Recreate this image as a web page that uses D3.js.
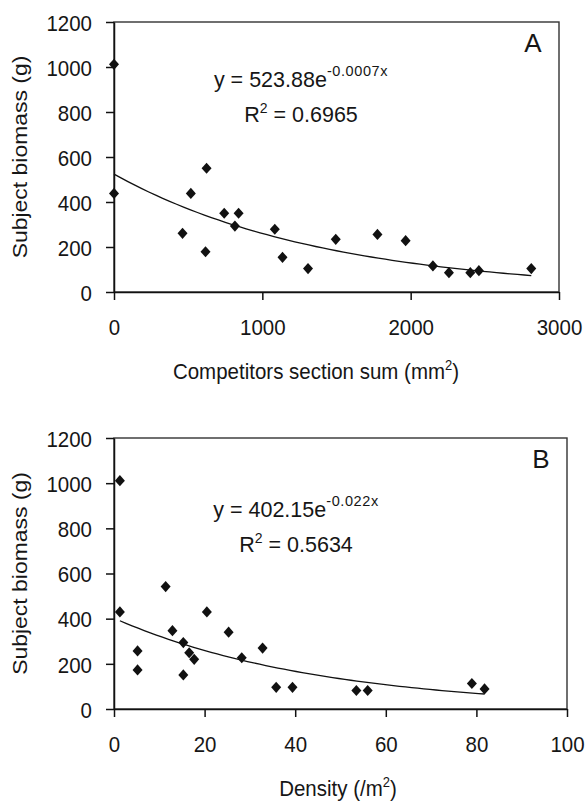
<!DOCTYPE html>
<html>
<head>
<meta charset="utf-8">
<script src="https://cdn.jsdelivr.net/npm/d3@7"></script>
<style>
body { margin: 0; background: #fff; }
svg text { font-family: "Liberation Sans", Arial, sans-serif; fill: #161616; }
</style>
</head>
<body>
<div id="chart"></div>
<script>
// Panel A: competitors section sum (mm2) vs subject biomass (g)
var sectionSum = [0, 0, 462, 518, 624, 617, 743, 815, 840, 1084, 1136, 1308, 1495, 1776, 1966, 2150, 2258, 2402, 2460, 2813];
var biomassA   = [1012, 438, 261, 438, 550, 179, 350, 293, 350, 279, 154, 104, 234, 256, 228, 116, 86, 86, 95, 104];

// Panel B: density (/m2) vs subject biomass (g)
var density  = [1.3, 1.3, 11.4, 5.2, 5.2, 12.9, 15.3, 15.3, 16.6, 17.7, 20.5, 25.3, 28.2, 32.8, 35.8, 39.4, 53.5, 56.0, 79.0, 81.8];
var biomassB = [1011, 430, 542, 257, 173, 347, 294, 151, 249, 220, 430, 340, 227, 270, 96, 96, 82, 82, 113, 89];

var yTicks  = [0, 200, 400, 600, 800, 1000, 1200];
var xTicksA = [0, 1000, 2000, 3000];
var xTicksB = [0, 20, 40, 60, 80, 100];

// exponential trendlines y = a * e^(b x), as printed on the chart
var fitA = { a: 523.88, b: -0.0007, coef: "523.88", expo: "-0.0007x", r2: "0.6965" };
var fitB = { a: 402.15, b: -0.022,  coef: "402.15", expo: "-0.022x",  r2: "0.5634" };

var stretch = 1.12; // the source picture is slightly taller than wide

var svg = d3.select("#chart")
    .append("svg")
    .attr("width", 586)
    .attr("height", 803);

function diamond(d) {
    return "M0,-5.6L5,0L0,5.6L-5,0Z";
}

function drawPanel(p) {
    var x = d3.scaleLinear().domain([0, p.xTicks[p.xTicks.length - 1]]).range([p.left, p.right]);
    var y = d3.scaleLinear().domain([0, 1200]).range([p.bottom, p.top]);

    // plot frame
    svg.append("rect")
        .attr("x", p.left)
        .attr("y", p.top)
        .attr("width", p.right - p.left)
        .attr("height", p.bottom - p.top)
        .attr("fill", "none")
        .attr("stroke", "#333")
        .attr("stroke-width", 1.4);

    // x axis
    var gx = svg.append("g")
        .attr("transform", "translate(0," + p.bottom + ")")
        .call(d3.axisBottom(x).tickValues(p.xTicks).tickSize(8).tickSizeOuter(0).tickFormat(d3.format("d")));
    gx.selectAll("text")
        .attr("y", 43 / stretch)
        .attr("dy", null)
        .attr("transform", "scale(1," + stretch + ")")
        .style("font-size", "20.5px");

    // y axis
    var gy = svg.append("g")
        .attr("transform", "translate(" + p.left + ",0)")
        .call(d3.axisLeft(y).tickValues(yTicks).tickSize(8).tickSizeOuter(0).tickFormat(d3.format("d")));
    gy.selectAll("text")
        .attr("x", -22)
        .attr("dy", null)
        .attr("y", 8.3 / stretch)
        .attr("transform", "scale(1," + stretch + ")")
        .style("font-size", "20.5px");

    svg.selectAll(".domain, .tick line")
        .attr("stroke", "#111")
        .attr("stroke-width", 1.5);

    // trendline
    var xs = p.xs, ys = p.ys;
    var x0 = d3.min(xs), x1 = d3.max(xs);
    var curve = d3.range(0, 61).map(function(i) {
        var v = x0 + (x1 - x0) * i / 60;
        return [v, p.fit.a * Math.exp(p.fit.b * v)];
    });
    svg.append("path")
        .datum(curve)
        .attr("fill", "none")
        .attr("stroke", "#111")
        .attr("stroke-width", 1.3)
        .attr("d", d3.line()
            .x(function(d) { return x(d[0]); })
            .y(function(d) { return y(d[1]); }));

    // points
    svg.append("g")
        .selectAll("path")
        .data(xs.map(function(v, i) { return [v, ys[i]]; }))
        .enter().append("path")
        .attr("transform", function(d) { return "translate(" + x(d[0]) + "," + y(d[1]) + ")"; })
        .attr("d", diamond)
        .attr("fill", "#111");

    // equation
    var eq = svg.append("text")
        .attr("x", p.eqX)
        .attr("y", p.eqY)
        .attr("text-anchor", "middle")
        .style("font-size", "21.5px");
    eq.append("tspan").text("y = " + p.fit.coef + "e");
    eq.append("tspan").attr("dy", -11.5).style("font-size", "14.5px").style("letter-spacing", "0.6px").text(p.fit.expo);

    var r2 = svg.append("text")
        .attr("x", p.eqX)
        .attr("y", p.eqY + 35)
        .attr("text-anchor", "middle")
        .style("font-size", "21.5px");
    r2.append("tspan").text("R");
    r2.append("tspan").attr("dy", -9).style("font-size", "14px").text("2");
    r2.append("tspan").attr("dy", 9).text(" = " + p.fit.r2);

    // panel letter
    svg.append("text")
        .attr("x", p.right - 26)
        .attr("y", p.top + 30)
        .attr("text-anchor", "middle")
        .style("font-size", "26px")
        .text(p.letter);

    // y axis title
    svg.append("text")
        .attr("transform", "translate(27," + (p.top + p.bottom) / 2 + ") rotate(-90) scale(" + stretch + ",1)")
        .attr("text-anchor", "middle")
        .style("font-size", "20.5px")
        .text("Subject biomass (g)");

    // x axis title
    var xt = svg.append("text")
        .attr("transform", "translate(" + p.titleX + "," + (p.bottom + 87) + ") scale(1," + stretch + ")")
        .attr("text-anchor", "middle")
        .style("font-size", "20.5px");
    xt.append("tspan").text(p.xTitle);
    xt.append("tspan").attr("dy", -8).style("font-size", "13px").text("2");
    xt.append("tspan").attr("dy", 8).text(")");
}

drawPanel({
    left: 114, right: 559, top: 22, bottom: 292,
    xTicks: xTicksA, xs: sectionSum, ys: biomassA, fit: fitA,
    eqX: 301, eqY: 87, letter: "A", titleX: 316,
    xTitle: "Competitors section sum (mm"
});

drawPanel({
    left: 114, right: 567, top: 438, bottom: 709,
    xTicks: xTicksB, xs: density, ys: biomassB, fit: fitB,
    eqX: 296, eqY: 517, letter: "B", titleX: 338,
    xTitle: "Density (/m"
});
</script>
</body>
</html>
